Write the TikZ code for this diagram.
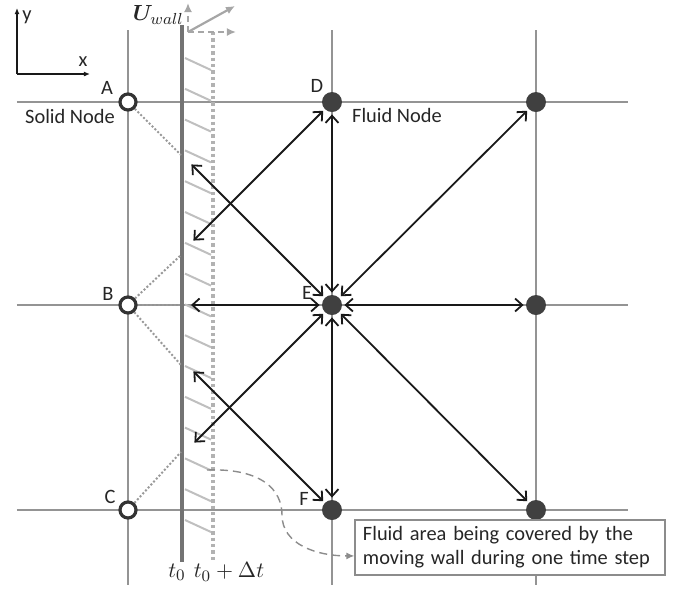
\documentclass[tikz,border=0pt]{standalone}
\usepackage{fontspec}
\setmainfont{Carlito}
\usepackage{amsmath}
\usepackage{bm}
\usetikzlibrary{arrows.meta,calc,positioning}

\begin{document}
\begin{tikzpicture}[
      x=0.5pt, y=-0.5pt,
      gridline/.style={draw=black!42, line width=0.75pt},
      wall/.style={draw=black!55, line width=2pt},
      wallnext/.style={draw=black!30, line width=1.7pt, dash pattern=on 1.7pt off 1.5pt},
      hatch/.style={draw=black!25, line width=1pt},
      solidnode/.style={circle, draw=black!80, line width=1.6pt, fill=white,
        minimum size=8pt, inner sep=0pt},
      fluidnode/.style={circle, fill=black!75, minimum size=10pt, inner sep=0pt},
      link/.style={<->, >={Straight Barb[length=3.6pt,width=6.5pt]}, line width=0.9pt,
        draw=black!90, shorten <=1pt, shorten >=1pt},
      bounce/.style={draw=black!40, line width=1pt, dash pattern=on 1pt off 1pt},
      velo/.style={draw=black!35, line width=1.1pt, -{Latex[length=4.5pt,width=4pt]}},
      axis/.style={draw=black!90, line width=0.6pt, -{Latex[length=3pt,width=2.5pt]}},
      lbl/.style={font=\fontsize{10.2}{12}\selectfont, text=black!85, inner sep=0pt},
      notebox/.style={draw=black!45, line width=0.6pt, fill=white, text=black!85,
        font=\fontsize{10.2}{12}\selectfont, align=left, text width=147pt,
        inner xsep=4pt, minimum width=155pt, minimum height=27.5pt}
    ]
    \useasboundingbox (0,0) rectangle (677,591);

    % lattice
    \foreach \row in {102,305,510}
      \draw[gridline] (17,\row) -- (628,\row);
    \foreach \col in {128,332,536}
      \draw[gridline] (\col,30) -- (\col,585);

    % axes
    \coordinate (origin) at (17,74);
    \coordinate (xend) at (90,74);
    \coordinate (yend) at (17,8);
    \draw[axis] (origin) -- (xend);
    \draw[axis] (origin) -- (yend);
    \node[lbl] (xlabel) at (83,62) {x};
    \node[lbl] (ylabel) at (27,17) {y};

    % wall at t0 and t0 + dt
    \foreach \k in {0,...,15}
      \draw[hatch] (185,{58+30.8*\k}) -- (211,{70+30.8*\k});
    \draw[wallnext] (213,32) -- (213,560);
    \draw[wall] (182,25) -- (182,562);
    \node[lbl, font=\fontsize{11}{13}\selectfont] (tzero) at (177,572) {$t_0$};
    \node[lbl, font=\fontsize{11}{13}\selectfont] (tone) at (229,572) {$t_0+\Delta t$};

    % wall velocity
    \coordinate (vbase) at (188,32);
    \coordinate (vup) at (188,3);
    \coordinate (vright) at (236,32);
    \coordinate (vtip) at (235,6);
    \draw[velo, dash pattern=on 3pt off 2pt] (vbase) -- (vup);
    \draw[velo, dash pattern=on 3pt off 2pt] (vbase) -- (vright);
    \draw[velo] (vbase) -- (vtip);
    \node[lbl, font=\fontsize{11}{13}\selectfont, anchor=east] (uwall) at (184,15) {$\bm{U}_{wall}$};

    % points on the wall
    \coordinate (a1) at (181,155);
    \coordinate (b1) at (181,255);
    \coordinate (b2) at (181,305);
    \coordinate (b3) at (181,365);
    \coordinate (c1) at (181,452);
    \coordinate (w1) at (190,163);
    \coordinate (w2) at (192,242);
    \coordinate (w3) at (189,305);
    \coordinate (w4) at (192,370);
    \coordinate (w5) at (193,444);

    % solid nodes
    \node[solidnode] (A) at (128,102) {};
    \node[solidnode] (B) at (128,305) {};
    \node[solidnode] (C) at (128,510) {};
    \node[lbl] (Alabel) at (107,88) {A};
    \node[lbl] (Blabel) at (108,294) {B};
    \node[lbl] (Clabel) at (110,497) {C};
    \node[lbl] (solidlabel) at (70,116) {Solid Node};

    % fluid nodes
    \node[fluidnode] (D) at (332,102) {};
    \node[fluidnode] (E) at (332,305) {};
    \node[fluidnode] (F) at (332,510) {};
    \node[fluidnode] (dright) at (536,102) {};
    \node[fluidnode] (eright) at (536,305) {};
    \node[fluidnode] (fright) at (536,510) {};
    \node[lbl] (Dlabel) at (317,86) {D};
    \node[lbl] (Elabel) at (307,293) {E};
    \node[lbl] (Flabel) at (304,499) {F};
    \node[lbl] (fluidlabel) at (397,115) {Fluid Node};

    % bounce-back paths
    \draw[bounce] (A) -- (a1);
    \draw[bounce] (B) -- (b1);
    \draw[bounce] (B) -- (b2);
    \draw[bounce] (B) -- (b3);
    \draw[bounce] (C) -- (c1);

    % streaming links
    \draw[link] (E) -- (D);
    \draw[link] (E) -- (F);
    \draw[link] (E) -- (dright);
    \draw[link] (E) -- (eright);
    \draw[link] (E) -- (fright);
    \draw[link] (E) -- (w1);
    \draw[link] (E) -- (w3);
    \draw[link] (E) -- (w5);
    \draw[link] (D) -- (w2);
    \draw[link] (F) -- (w4);

    % note
    \node[notebox] (note) at (510,547.5)
      {Fluid area being covered by the\\moving wall during one time step};
    \coordinate (areastart) at (207,470);
    \coordinate (noteend) at ($(note.south west)!0.35!(note.north west)$);
    \draw[draw=black!45, line width=0.7pt, dash pattern=on 4pt off 2.5pt,
      -{Latex[length=4pt,width=3.5pt]}]
      (areastart) .. controls (262,468) and (282,490) .. (282,515)
      .. controls (282,545) and (318,556) .. (noteend);
  \end{tikzpicture}
\end{document}
